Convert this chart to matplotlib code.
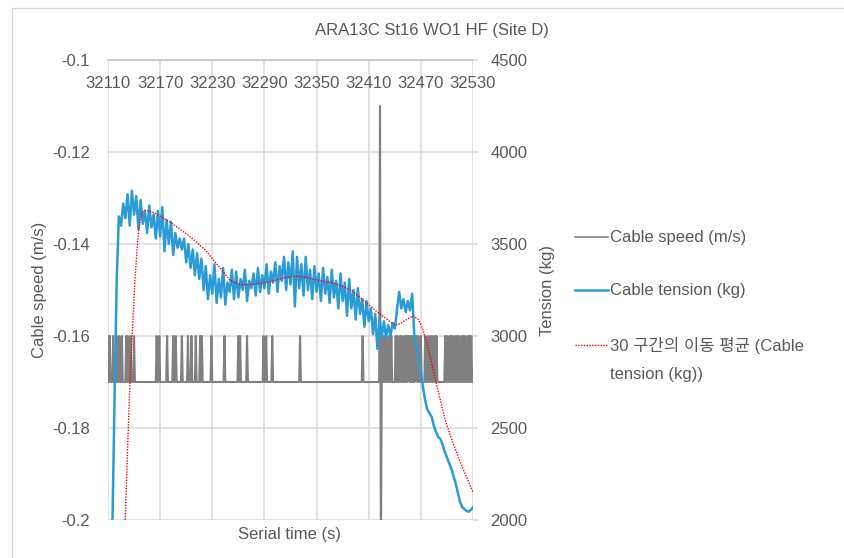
import numpy as np
import matplotlib
matplotlib.use("Agg")
import matplotlib.pyplot as plt
from matplotlib.lines import Line2D
from matplotlib.patches import Rectangle

plt.rcParams['font.family'] = ['Liberation Sans', 'Noto Sans CJK KR']

# ---- text ----
title = "ARA13C St16 WO1 HF (Site D)"
x_label = "Serial time (s)"
left_label = "Cable speed (m/s)"
right_label = "Tension (kg)"
series_labels = ["Cable speed (m/s)",
                 "Cable tension (kg)",
                 "30 구간의 이동 평균 (Cable\ntension (kg))"]

# ---- axes ----
x_ticks = [32110, 32170, 32230, 32290, 32350, 32410, 32470, 32530]
speed_ticks = [-0.1, -0.12, -0.14, -0.16, -0.18, -0.2]
speed_tick_labels = ["-0.1", "-0.12", "-0.14", "-0.16", "-0.18", "-0.2"]
tension_ticks = [2000, 2500, 3000, 3500, 4000, 4500]

# ---- cable speed (1 s samples): base level with short pulses ----
speed_start, speed_end = 32110, 32530
speed_base = -0.17
speed_high = -0.16
speed_pulse_times = [
    32110, 32112, 32116, 32120, 32123, 32126, 32131, 32133, 32136, 32140,
    32166, 32169, 32178, 32185, 32188, 32195, 32202, 32206, 32211, 32216,
    32218, 32229, 32244, 32260, 32262, 32270, 32289, 32292, 32299, 32331,
    32403,
    32426, 32428, 32430, 32433, 32436, 32441, 32443, 32446, 32448, 32451,
    32453, 32455, 32456, 32458, 32460, 32462, 32464, 32465, 32467, 32470,
    32475, 32478, 32481, 32483, 32486, 32488, 32498, 32500, 32503, 32505,
    32507, 32510, 32512, 32514, 32517, 32519, 32521, 32524, 32526, 32528,
]
speed_spike_times = [32423, 32424]
speed_spike_values = [-0.11, -0.21]

# ---- cable tension (2.5 s samples) ----
tension_t0 = 32112.5
tension_step = 2.5
tension = [
    1300, 1950, 2650, 3300, 3650, 3600, 3720, 3640, 3770, 3600,
    3790, 3660, 3760, 3580, 3740, 3610, 3680, 3560, 3710, 3590,
    3660, 3530, 3680, 3540, 3700, 3460, 3630, 3500, 3620, 3440,
    3560, 3480, 3530, 3470, 3530, 3400, 3500, 3370, 3470, 3330,
    3450, 3310, 3420, 3250, 3380, 3200, 3330, 3230, 3390, 3180,
    3310, 3210, 3370, 3170, 3290, 3240, 3360, 3200, 3350, 3210,
    3310, 3250, 3360, 3190, 3300, 3260, 3340, 3220, 3370, 3240,
    3330, 3260, 3390, 3230, 3350, 3290, 3400, 3240, 3380, 3300,
    3430, 3250, 3400, 3280, 3460, 3160, 3430, 3260, 3390, 3220,
    3430, 3250, 3360, 3200, 3380, 3240, 3340, 3190, 3370, 3230,
    3320, 3180, 3360, 3210, 3300, 3150, 3340, 3190, 3290, 3110,
    3310, 3150, 3250, 3090, 3260, 3120, 3200, 3050, 3190, 3080,
    3150, 3010, 3120, 2930, 3090, 2990, 3080, 2990, 3060, 3000,
    3070, 3040, 3140, 3240, 3150, 3200, 3130, 3190, 3140, 3230,
    3000, 2950, 2870, 2800, 2720, 2650, 2600, 2580, 2560, 2510,
    2480, 2450, 2440, 2410, 2370, 2340, 2310, 2280, 2240, 2200,
    2150, 2100, 2070, 2060, 2050, 2045, 2055, 2070,
]

# ---- 30-period moving average of tension ----
ma_time = [
    32128, 32130, 32133, 32135.5, 32137, 32139, 32141, 32143, 32145, 32147,
    32149, 32152, 32157, 32164, 32174, 32183, 32193, 32202, 32212, 32222,
    32231, 32241, 32250, 32258, 32266, 32277, 32288, 32300, 32312, 32323,
    32335, 32345, 32355, 32369, 32380, 32389, 32400, 32410, 32420, 32430,
    32437, 32443, 32452, 32461, 32467, 32472, 32477, 32481, 32486, 32492,
    32498, 32505, 32513, 32521, 32530,
]
ma_tension = [
    1880, 2030, 2450, 2780, 2924, 3110, 3304, 3440, 3560, 3630,
    3668, 3683, 3680, 3668, 3640, 3614, 3580, 3549, 3510, 3467,
    3415, 3359, 3304, 3285, 3278, 3282, 3288, 3300, 3315, 3326,
    3322, 3310, 3300, 3288, 3270, 3250, 3210, 3170, 3130, 3095,
    3068, 3060, 3085, 3109, 3090, 3040, 2960, 2880, 2777, 2660,
    2543, 2445, 2342, 2250, 2152,
]

# ---- build series ----
speed_time = np.arange(speed_start, speed_end + 1)
speed = np.full(speed_time.shape, speed_base)
speed[np.isin(speed_time, speed_pulse_times)] = speed_high
for t, v in zip(speed_spike_times, speed_spike_values):
    speed[speed_time == t] = v

tension_time = tension_t0 + tension_step * np.arange(len(tension))

# ---- figure ----
W, H = 845, 558
fig = plt.figure(figsize=(W / 100, H / 100), dpi=100)
fig.patch.set_facecolor("white")

def fx(px):
    return px / W

def fy(py):
    return 1 - py / H

text_color = "#595959"
grid_color = "#d9d9d9"
speed_color = "#808080"
tension_color = "#2b9bd8"
ma_color = "#ff0000"

# outer chart frame
fig.add_artist(Rectangle((fx(12), -0.05), 1.2, fy(8) + 0.05,
                         transform=fig.transFigure, fill=False,
                         edgecolor=grid_color, lw=1.0))

ax = fig.add_axes([fx(108), fy(520), fx(473) - fx(108), fy(60) - fy(520)])
ax2 = ax.twinx()

ax.plot(speed_time, speed, color=speed_color, lw=1.5, zorder=2)
ax2.plot(tension_time, tension, color=tension_color, lw=1.8, zorder=3)
ax2.plot(ma_time, ma_tension, color=ma_color, lw=1.0,
         linestyle=(0, (1, 1)), zorder=4)

ax.set_xlim(x_ticks[0], x_ticks[-1])
ax.set_ylim(min(speed_ticks), max(speed_ticks))
ax2.set_ylim(min(tension_ticks), max(tension_ticks))

ax.set_xticks(x_ticks)
ax.set_xticklabels([str(v) for v in x_ticks])
ax.set_yticks(speed_ticks)
ax.set_yticklabels(speed_tick_labels)
ax2.set_yticks(tension_ticks)
ax2.set_yticklabels([str(v) for v in tension_ticks])

ax.grid(True, color=grid_color, lw=1.1)
ax.set_axisbelow(True)

ax.xaxis.tick_top()
ax.tick_params(axis='x', length=0, pad=-22, labelsize=12, labelcolor=text_color)
ax.tick_params(axis='y', length=0, pad=13, labelsize=12, labelcolor=text_color)
ax2.tick_params(axis='y', length=3.6, width=1.1, color=grid_color,
                pad=9, labelsize=12, labelcolor=text_color)

for sp in ax.spines.values():
    sp.set_visible(False)
for sp in ax2.spines.values():
    sp.set_visible(False)
ax.spines['top'].set_visible(True)
ax.spines['top'].set_color("#bfbfbf")
ax.spines['top'].set_linewidth(1.1)

# titles and axis labels
fig.text(fx(432), fy(31), title, ha='center', va='center',
         fontsize=12, color=text_color)
fig.text(fx(290), fy(535), x_label, ha='center', va='center',
         fontsize=12, color=text_color)
fig.text(fx(40), fy(290), left_label, ha='center', va='center',
         rotation=90, fontsize=12, color=text_color)
fig.text(fx(548), fy(290), right_label, ha='center', va='center',
         rotation=90, fontsize=12, color=text_color)

# legend
legend_styles = [
    dict(color=speed_color, lw=1.2, linestyle='-'),
    dict(color=tension_color, lw=1.8, linestyle='-'),
    dict(color=ma_color, lw=1.0, linestyle=(0, (1, 1))),
]
legend_rows = [237, 290, 345]
line_gap = 30
for label, style, row in zip(series_labels, legend_styles, legend_rows):
    fig.add_artist(Line2D([fx(575), fx(608)], [fy(row), fy(row)],
                          transform=fig.transFigure, **style))
    for k, part in enumerate(label.split("\n")):
        fig.text(fx(610), fy(row + k * line_gap), part, ha='left',
                 va='center', fontsize=12, color=text_color)

fig.savefig("out.png", dpi=100, facecolor="white")
